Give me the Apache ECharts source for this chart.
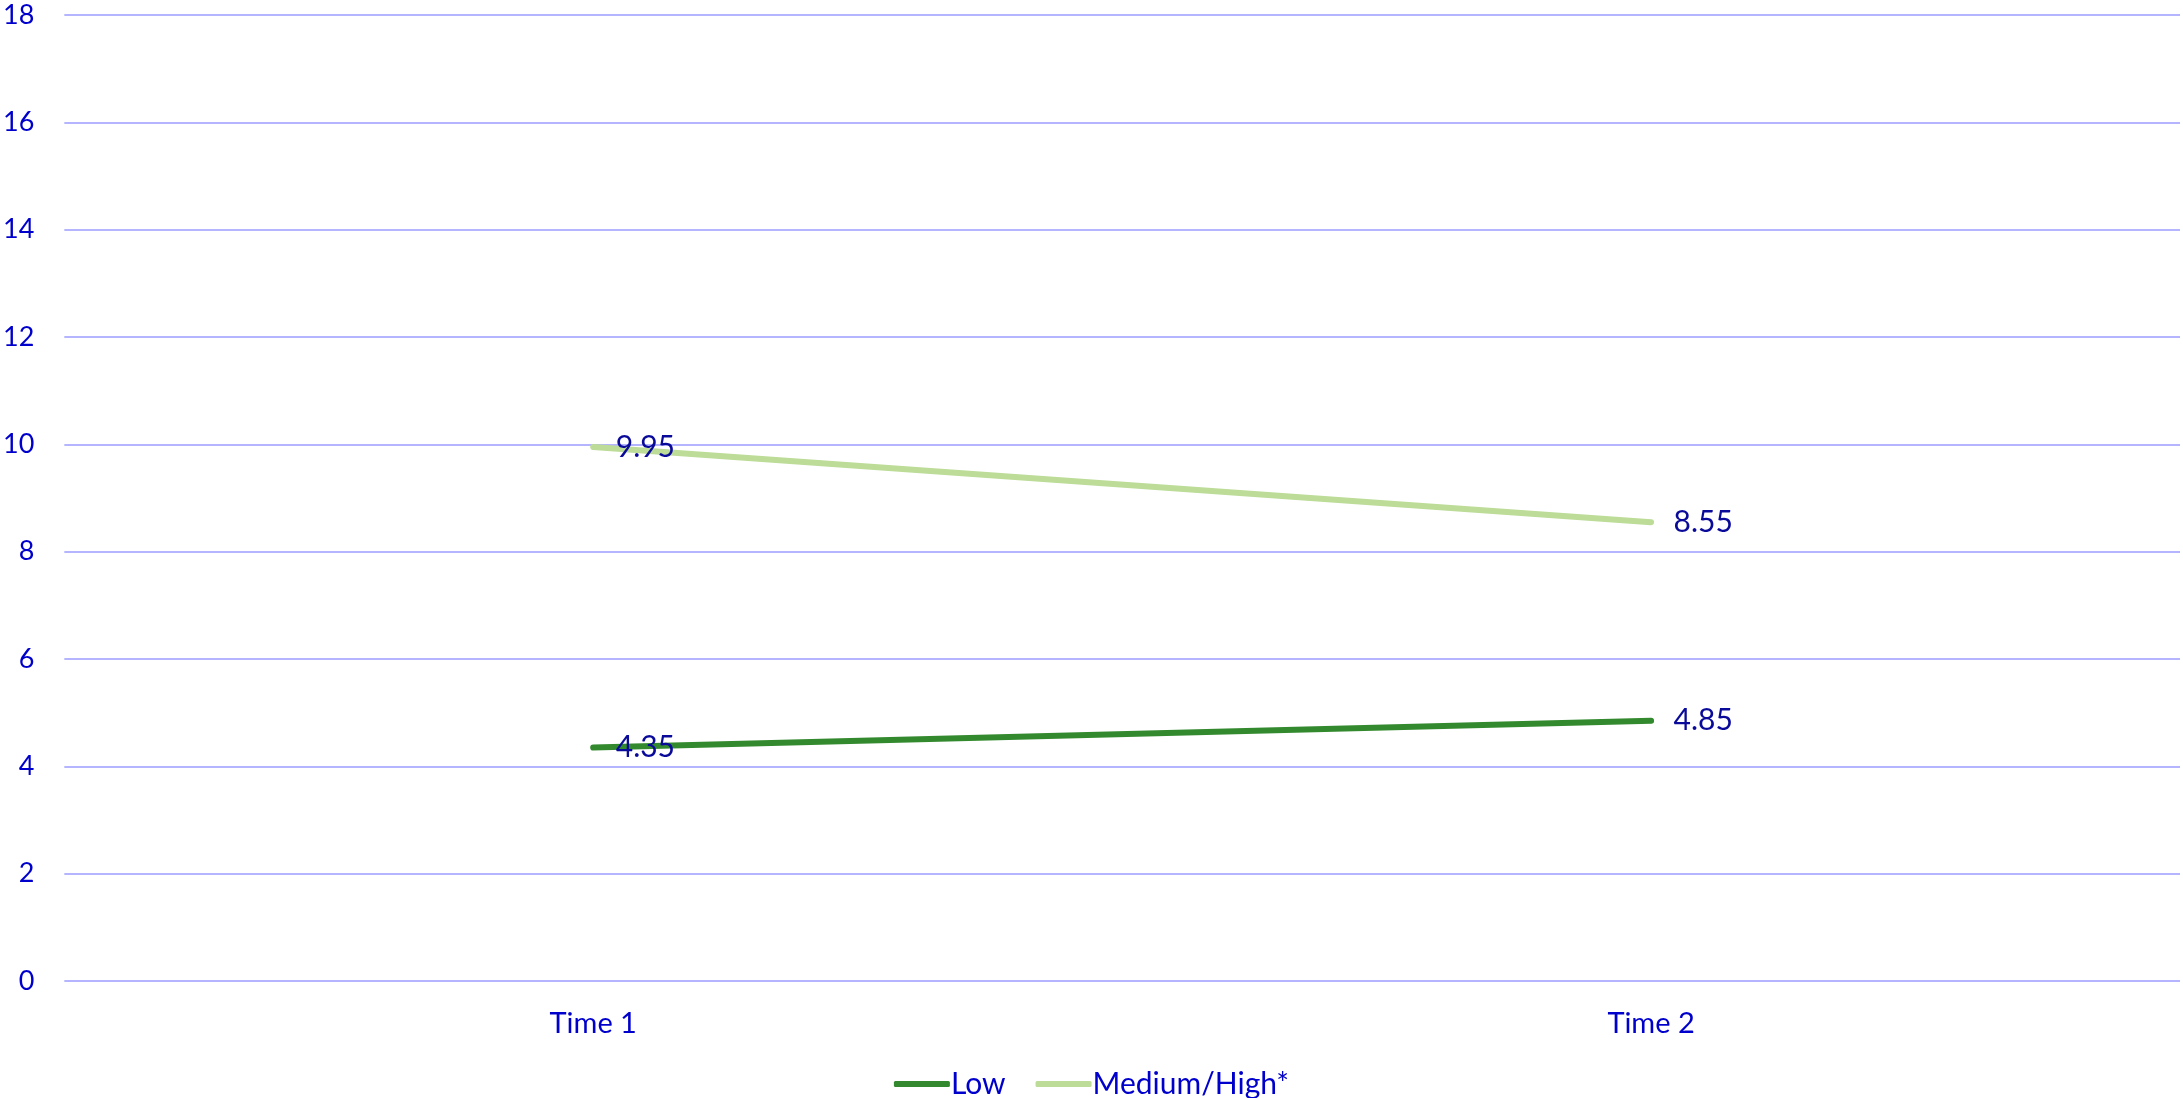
<!DOCTYPE html>
<html>
<head>
<meta charset="utf-8">
<script src="https://cdn.jsdelivr.net/npm/echarts@6/dist/echarts.min.js"></script>
<style>
  html, body { margin: 0; padding: 0; background: #fff; }
  #chart { width: 2183px; height: 1098px; }
</style>
</head>
<body>
<div id="chart"></div>
<script>
var categories = ['Time 1', 'Time 2'];
var lowValues = [4.35, 4.85];
var medHighValues = [9.95, 8.55];
var seriesNames = ['Low', 'Medium/High*'];

var chartDom = document.getElementById('chart');
var myChart = echarts.init(chartDom);
var font = 'Lato, "Open Sans", sans-serif';

function lineSeries(name, values, color) {
  return {
    name: name,
    type: 'line',
    data: values,
    symbol: 'circle',
    symbolSize: 5,
    showSymbol: true,
    lineStyle: { color: color, width: 6, cap: 'round' },
    itemStyle: { color: color },
    label: {
      show: true,
      position: 'right',
      distance: 20,
      color: '#0a0a9a',
      fontFamily: font,
      fontSize: 30
    },
    emphasis: { disabled: true }
  };
}

var option = {
  animation: false,
  legend: {
    data: seriesNames,
    bottom: -6,
    left: 'center',
    itemWidth: 56,
    itemHeight: 6,
    itemGap: 30,
    icon: 'roundRect',
    textStyle: { color: '#0000cc', fontFamily: font, fontSize: 30, padding: [0, 0, 0, -4] }
  },
  grid: {
    left: 63,
    right: 3,
    top: 15,
    bottom: 117
  },
  xAxis: {
    type: 'category',
    data: categories,
    axisLine: { show: false },
    axisTick: { show: false },
    axisLabel: { color: '#0000cc', fontFamily: font, fontSize: 29, margin: 28 }
  },
  yAxis: {
    type: 'value',
    min: 0,
    max: 18,
    interval: 2,
    axisLine: { show: false },
    axisTick: { show: false },
    splitLine: { lineStyle: { color: '#b4b4ff', width: 2 } },
    axisLabel: { color: '#0000cc', fontFamily: font, fontSize: 27, margin: 30 }
  },
  series: [
    lineSeries(seriesNames[0], lowValues, '#338a2e'),
    lineSeries(seriesNames[1], medHighValues, '#bcdc98')
  ]
};

myChart.setOption(option);
window.addEventListener('resize', function () { myChart.resize(); });
</script>
</body>
</html>
